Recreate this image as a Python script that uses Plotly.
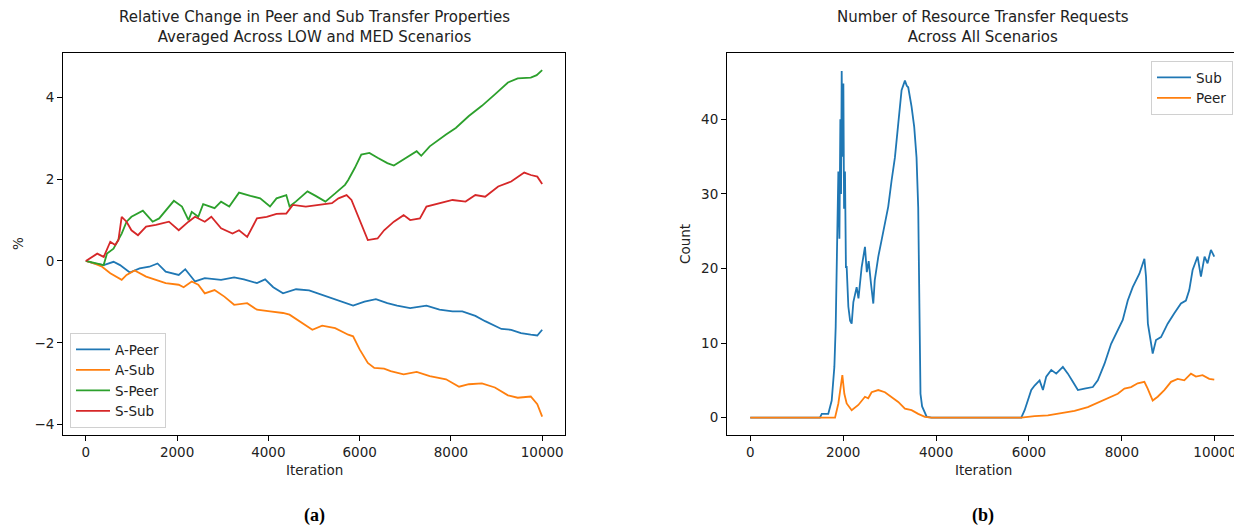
import plotly.graph_objects as go

# ---------------- data: panel (a) ----------------
a_peer_x = [0, 179, 393, 607, 750, 964, 1179, 1393, 1571, 1750, 2036, 2179, 2393, 2607, 2964, 3250, 3464,
            3750, 3929, 4107, 4321, 4607, 4893, 5179, 5536, 5857, 6107, 6357, 6607, 6821, 7107, 7464, 7750,
            8036, 8250, 8536, 8750, 9107, 9321, 9536, 9750, 9893, 10000]
a_peer_y = [0, -0.06, -0.1, -0.02, -0.1, -0.28, -0.18, -0.14, -0.06, -0.26, -0.34, -0.2, -0.5, -0.42, -0.46,
            -0.4, -0.45, -0.54, -0.45, -0.64, -0.79, -0.69, -0.72, -0.83, -0.95, -1.09, -0.99, -0.93, -1.03,
            -1.09, -1.15, -1.09, -1.19, -1.23, -1.23, -1.34, -1.47, -1.66, -1.68, -1.76, -1.8, -1.82, -1.68]

a_sub_x = [0, 179, 357, 536, 786, 893, 1071, 1321, 1536, 1750, 2036, 2143, 2321, 2464, 2607, 2821, 3036,
           3250, 3536, 3750, 4036, 4321, 4464, 4750, 4964, 5179, 5464, 5750, 5857, 6000, 6179, 6321, 6536,
           6679, 6964, 7250, 7536, 7893, 8179, 8393, 8679, 8964, 9250, 9464, 9750, 9893, 10000]
a_sub_y = [0, -0.06, -0.14, -0.3, -0.46, -0.34, -0.23, -0.38, -0.46, -0.54, -0.58, -0.64, -0.5, -0.58,
           -0.79, -0.71, -0.87, -1.07, -1.03, -1.19, -1.23, -1.27, -1.31, -1.51, -1.68, -1.58, -1.64, -1.8,
           -1.84, -2.16, -2.49, -2.61, -2.63, -2.69, -2.77, -2.71, -2.81, -2.89, -3.07, -3.01, -2.99, -3.09,
           -3.28, -3.34, -3.31, -3.5, -3.8]

s_peer_x = [0, 180, 390, 464, 607, 786, 893, 1000, 1250, 1464, 1607, 1929, 2107, 2250, 2321, 2464, 2571,
            2821, 2964, 3143, 3357, 3607, 3821, 4036, 4179, 4393, 4464, 4600, 4857, 5036, 5250, 5464, 5679,
            5750, 5893, 6036, 6214, 6393, 6607, 6750, 6964, 7250, 7350, 7536, 7893, 8107, 8393, 8679, 8964,
            9250, 9464, 9750, 9880, 10000]
s_peer_y = [0, -0.05, -0.1, 0.18, 0.3, 0.67, 0.96, 1.08, 1.23, 0.96, 1.04, 1.47, 1.33, 1.0, 1.2, 1.08, 1.39,
            1.29, 1.45, 1.33, 1.67, 1.59, 1.53, 1.33, 1.53, 1.61, 1.33, 1.45, 1.7, 1.59, 1.45, 1.65, 1.86,
            1.98, 2.27, 2.6, 2.64, 2.52, 2.39, 2.33, 2.48, 2.68, 2.57, 2.8, 3.09, 3.25, 3.54, 3.79, 4.07,
            4.36, 4.46, 4.48, 4.54, 4.66]

s_sub_x = [0, 250, 393, 536, 643, 714, 786, 893, 1000, 1143, 1321, 1536, 1821, 2036, 2250, 2393, 2607,
           2750, 2964, 3214, 3357, 3536, 3750, 3964, 4179, 4393, 4536, 4821, 5107, 5393, 5536, 5714, 5821,
           6000, 6179, 6393, 6536, 6750, 6964, 7107, 7321, 7464, 7750, 8036, 8321, 8536, 8750, 9036, 9321,
           9607, 9750, 9893, 10000]
s_sub_y = [0, 0.18, 0.1, 0.47, 0.39, 0.51, 1.08, 0.96, 0.75, 0.63, 0.84, 0.88, 0.96, 0.75, 0.96, 1.08, 0.96,
           1.08, 0.8, 0.67, 0.75, 0.59, 1.04, 1.08, 1.15, 1.16, 1.37, 1.33, 1.37, 1.41, 1.53, 1.61, 1.49,
           1.0, 0.51, 0.55, 0.75, 0.96, 1.12, 1.0, 1.04, 1.33, 1.41, 1.49, 1.45, 1.61, 1.57, 1.82, 1.94,
           2.16, 2.1, 2.06, 1.88]

# ---------------- data: panel (b) ----------------
sub_x = [0, 1500, 1540, 1680, 1754, 1811, 1840, 1869, 1897, 1920, 1940, 1955, 1969, 1985, 2005, 2020, 2040,
         2060, 2076, 2112, 2150, 2184, 2220, 2291, 2330, 2399, 2470, 2510, 2550, 2599, 2649, 2680, 2757,
         2828, 2900, 2971, 3043, 3115, 3186, 3258, 3330, 3370, 3401, 3473, 3530, 3580, 3616, 3640, 3665,
         3700, 3760, 3800, 3902, 5835, 5907, 5979, 6050, 6122, 6229, 6301, 6372, 6480, 6587, 6730, 6838,
         6945, 7053, 7196, 7375, 7482, 7625, 7769, 7912, 8019, 8127, 8234, 8377, 8485, 8520, 8560, 8664,
         8735, 8843, 8986, 9129, 9272, 9379, 9451, 9523, 9630, 9702, 9780, 9845, 9917, 9989]
sub_y = [0, 0, 0.5, 0.5, 2.3, 6.8, 12.2, 21.6, 33, 24, 40, 30, 46.5, 35, 44.8, 28, 33,
         20.2, 20.2, 14.9, 13.0, 12.6, 15.5, 17.5, 16.0, 20.2, 22.9, 19.5, 21.0, 18.0, 15.3, 18.4, 21.6,
         23.8, 26, 28.3, 31.8, 34.9, 39.4, 43.9, 45.2, 44.5, 44.3, 41.7, 39.0, 34.9, 28.2, 15, 3.2,
         1.5, 0.5, 0.1, 0, 0, 1.0, 2.3, 3.7, 4.3, 5.0, 3.7, 5.5, 6.4, 5.9, 6.8, 5.9,
         4.8, 3.7, 3.9, 4.1, 5.0, 7.2, 9.9, 11.7, 13.1, 15.7, 17.5, 19.3, 21.3, 18.9, 12.6, 8.6,
         10.4, 10.8, 12.6, 14.0, 15.3, 15.7, 17.1, 19.8, 21.6, 18.9, 21.6, 20.7, 22.5, 21.6]

peer_x = [0, 1826, 1897, 1955, 1983, 2026, 2076, 2184, 2327, 2470, 2540, 2613, 2757, 2900, 3043, 3186, 3330,
          3473, 3616, 3759, 3902, 5835, 6122, 6408, 6695, 6981, 7267, 7482, 7697, 7912, 8055, 8198, 8341,
          8485, 8556, 8664, 8771, 8914, 9058, 9201, 9344, 9487, 9594, 9737, 9881, 9989]
peer_y = [0, 0, 1.9, 4.1, 5.7, 3.2, 1.9, 1.0, 1.7, 2.8, 2.6, 3.4, 3.7, 3.4, 2.8, 2.1, 1.2,
          1.0, 0.5, 0.1, 0, 0, 0.2, 0.3, 0.6, 0.9, 1.4, 2.0, 2.6, 3.2, 3.9, 4.1, 4.6,
          4.8, 3.9, 2.3, 2.8, 3.7, 4.8, 5.2, 5.0, 5.9, 5.5, 5.7, 5.2, 5.1]

x_ticks = [0, 2000, 4000, 6000, 8000, 10000]
a_y_ticks = [-4, -2, 0, 2, 4]
b_y_ticks = [0, 10, 20, 30, 40]

for xs, ys in [(a_peer_x, a_peer_y), (a_sub_x, a_sub_y), (s_peer_x, s_peer_y), (s_sub_x, s_sub_y),
               (sub_x, sub_y), (peer_x, peer_y)]:
    assert len(xs) == len(ys), (len(xs), len(ys))

# ---------------- figure ----------------
# The page body has an 8px margin, so the figure is drawn 8px in from the window corner.
OFF = 8
W, H = 1242 - OFF, 532 - OFF
BLUE, ORANGE, GREEN, RED = "#1f77b4", "#ff7f0e", "#2ca02c", "#d62728"
LW = 1.8
FONT = "DejaVu Sans"
TXT = "#222222"
FS = 13.5

def fx(p):
    return (p - OFF) / W

def fy(p):
    return 1 - (p - OFF) / H

fig = go.Figure()
for name, xs, ys, col in [("A-Peer", a_peer_x, a_peer_y, BLUE), ("A-Sub", a_sub_x, a_sub_y, ORANGE),
                          ("S-Peer", s_peer_x, s_peer_y, GREEN), ("S-Sub", s_sub_x, s_sub_y, RED)]:
    fig.add_trace(go.Scatter(x=xs, y=ys, mode="lines", name=name, line=dict(color=col, width=LW),
                             xaxis="x", yaxis="y", legend="legend"))
for name, xs, ys, col in [("Sub", sub_x, sub_y, BLUE), ("Peer", peer_x, peer_y, ORANGE)]:
    fig.add_trace(go.Scatter(x=xs, y=ys, mode="lines", name=name, line=dict(color=col, width=LW),
                             xaxis="x2", yaxis="y2", legend="legend2"))

axis_style = dict(showline=True, linecolor="black", linewidth=1, mirror=True, ticks="outside",
                  ticklen=5, tickcolor="black", tickwidth=1, showgrid=False, zeroline=False,
                  tickfont=dict(family=FONT, size=FS, color=TXT))

def ticktext(vals):
    return [("\u2212" + str(abs(v))) if v < 0 else str(v) for v in vals]

ydom = [fy(435), fy(53)]
legend_style = dict(bgcolor="rgba(255,255,255,0.8)", bordercolor="#d0d0d0", borderwidth=1,
                    font=dict(family=FONT, size=FS, color=TXT), itemwidth=34, tracegroupgap=0)
fig.update_layout(
    width=W, height=H, margin=dict(l=0, r=0, t=0, b=0),
    paper_bgcolor="white", plot_bgcolor="white",
    xaxis=dict(domain=[fx(63), fx(565)], range=[-500, 10500], anchor="y",
               tickvals=x_ticks, ticktext=ticktext(x_ticks), **axis_style),
    yaxis=dict(domain=ydom, range=[-4.25, 5.08], anchor="x",
               tickvals=a_y_ticks, ticktext=ticktext(a_y_ticks), **axis_style),
    xaxis2=dict(domain=[fx(727), fx(1238)], range=[-500, 10500], anchor="y2",
                tickvals=x_ticks, ticktext=ticktext(x_ticks), **axis_style),
    yaxis2=dict(domain=ydom, range=[-2.33, 48.9], anchor="x2",
                tickvals=b_y_ticks, ticktext=ticktext(b_y_ticks), **axis_style),
    legend=dict(x=fx(70), y=fy(428), xanchor="left", yanchor="bottom", **legend_style),
    legend2=dict(x=fx(1233), y=fy(61), xanchor="right", yanchor="top", **legend_style),
    showlegend=True,
)

ann = []
def add_text(text, x, y, size, rot=0, family=FONT, color=TXT):
    ann.append(dict(text=text, x=fx(x), y=fy(y), xref="paper", yref="paper", showarrow=False,
                    font=dict(family=family, size=size, color=color), textangle=rot,
                    xanchor="center", yanchor="middle"))

add_text("Relative Change in Peer and Sub Transfer Properties<br>Averaged Across LOW and MED Scenarios",
         314, 27, 15)
add_text("Number of Resource Transfer Requests<br>Across All Scenarios", 983, 27, 15)
add_text("Iteration", 314, 470, FS)
add_text("Iteration", 983, 470, FS)
add_text("%", 18, 244, FS, rot=-90)
add_text("Count", 685, 244, FS, rot=-90)
add_text("<b>(a)</b>", 314, 515, 18, family="Liberation Serif", color="black")
add_text("<b>(b)</b>", 983, 515, 18, family="Liberation Serif", color="black")
fig.update_layout(annotations=ann)

fig.write_html("out.html")
